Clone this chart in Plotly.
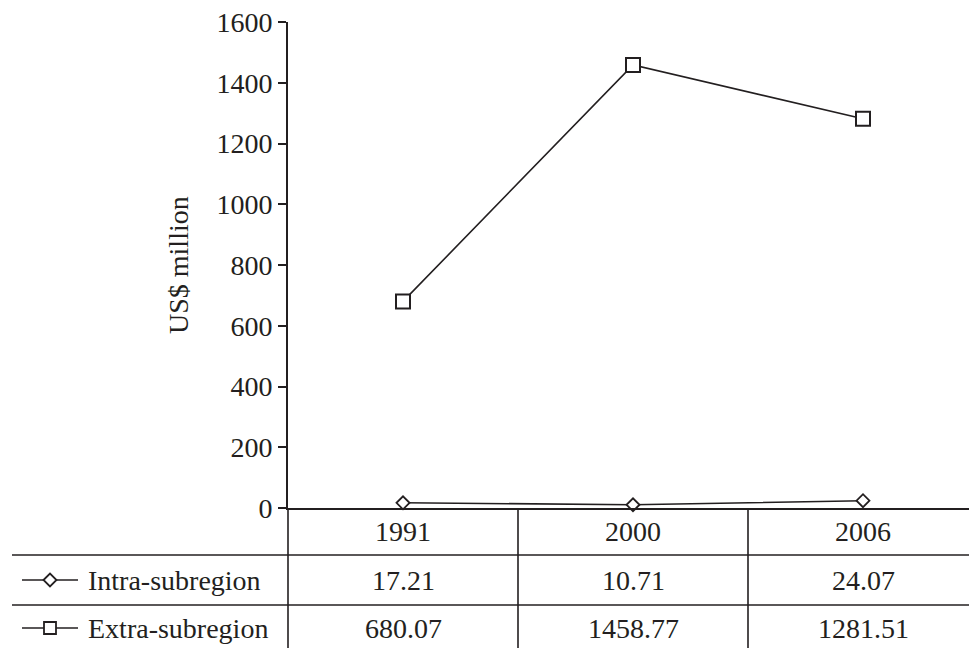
import plotly.graph_objects as go

# Data
years = ["1991", "2000", "2006"]
intra = [17.21, 10.71, 24.07]
extra = [680.07, 1458.77, 1281.51]
series_names = ["Intra-subregion", "Extra-subregion"]
y_ticks = [0, 200, 400, 600, 800, 1000, 1200, 1400, 1600]

INK = "#231f20"
FONT = "Liberation Serif"
FS = 28
W, H = 969, 648
ML, MT, MB = 288, 22, 140
PW, PH = W - ML, H - MT - MB


def px_x(p):
    return (p - ML) / PW


def px_y(p):
    return (H - MB - p) / PH


fig = go.Figure()
x_idx = list(range(len(years)))
fig.add_trace(go.Scatter(
    x=x_idx, y=intra, mode="lines+markers", name=series_names[0],
    line=dict(color=INK, width=1.6),
    marker=dict(symbol="diamond", size=10, color="white", line=dict(color=INK, width=1.8)),
    cliponaxis=False, showlegend=False))
fig.add_trace(go.Scatter(
    x=x_idx, y=extra, mode="lines+markers", name=series_names[1],
    line=dict(color=INK, width=1.6),
    marker=dict(symbol="square", size=14, color="white", line=dict(color=INK, width=2)),
    cliponaxis=False, showlegend=False))

shapes = []
annotations = []
lw = 1.6
line_style = dict(color=INK, width=lw)

# data table grid under the plot
for yp in (555, 605):
    shapes.append(dict(type="line", xref="paper", yref="paper",
                       x0=px_x(12), x1=1, y0=px_y(yp), y1=px_y(yp), line=line_style))
for xp in (518, 748):
    shapes.append(dict(type="line", xref="paper", yref="paper",
                       x0=px_x(xp), x1=px_x(xp), y0=0, y1=px_y(H), line=line_style))
shapes.append(dict(type="line", xref="paper", yref="paper",
                   x0=0, x1=0, y0=0, y1=px_y(H), line=line_style))

col_centers = [403, 633, 863]
row_y = [531, 580, 628]
for c, yr in zip(col_centers, years):
    annotations.append(dict(text=yr, x=px_x(c), y=px_y(row_y[0]), xref="paper", yref="paper",
                            showarrow=False, xanchor="center", yanchor="middle"))
for r, vals in enumerate([intra, extra]):
    for c, v in zip(col_centers, vals):
        annotations.append(dict(text=f"{v:.2f}", x=px_x(c), y=px_y(row_y[r + 1]),
                                xref="paper", yref="paper", showarrow=False,
                                xanchor="center", yanchor="middle"))

# series keys in the row headers
for r, (name, sym) in enumerate(zip(series_names, ["diamond", "square"])):
    yc = row_y[r + 1]
    shapes.append(dict(type="line", xref="paper", yref="paper",
                       x0=px_x(22), x1=px_x(78), y0=px_y(yc), y1=px_y(yc), line=line_style))
    cx = 50
    if sym == "diamond":
        d = 6.5
        path = (f"M {px_x(cx - d)},{px_y(yc)} L {px_x(cx)},{px_y(yc - d)} "
                f"L {px_x(cx + d)},{px_y(yc)} L {px_x(cx)},{px_y(yc + d)} Z")
    else:
        d = 6
        path = (f"M {px_x(cx - d)},{px_y(yc - d)} L {px_x(cx + d)},{px_y(yc - d)} "
                f"L {px_x(cx + d)},{px_y(yc + d)} L {px_x(cx - d)},{px_y(yc + d)} Z")
    shapes.append(dict(type="path", xref="paper", yref="paper", path=path,
                       fillcolor="white", line=dict(color=INK, width=1.8)))
    annotations.append(dict(text=name, x=px_x(86), y=px_y(yc), xref="paper", yref="paper",
                            showarrow=False, xanchor="left", yanchor="middle"))

# y-axis title
annotations.append(dict(text="US$ million", x=px_x(178), y=px_y(265), xref="paper", yref="paper",
                        showarrow=False, textangle=-90, xanchor="center", yanchor="middle"))

fig.update_layout(
    width=W, height=H,
    margin=dict(l=ML, r=0, t=MT, b=MB, pad=0),
    paper_bgcolor="white", plot_bgcolor="white",
    font=dict(family=FONT, size=FS, color=INK),
    shapes=shapes, annotations=annotations,
    xaxis=dict(range=[-0.5, -0.5 + PW / 230], showgrid=False, zeroline=False,
               showticklabels=False, ticks="", showline=True, linecolor=INK,
               linewidth=lw, fixedrange=True),
    yaxis=dict(range=[0, 1600], tickvals=y_ticks, ticks="outside", ticklen=8,
               tickwidth=lw, tickcolor=INK, showline=True, linecolor=INK, linewidth=lw,
               showgrid=False, zeroline=False, fixedrange=True,
               tickfont=dict(family=FONT, size=FS, color=INK)),
    showlegend=False,
)

fig.write_html("out.html")
